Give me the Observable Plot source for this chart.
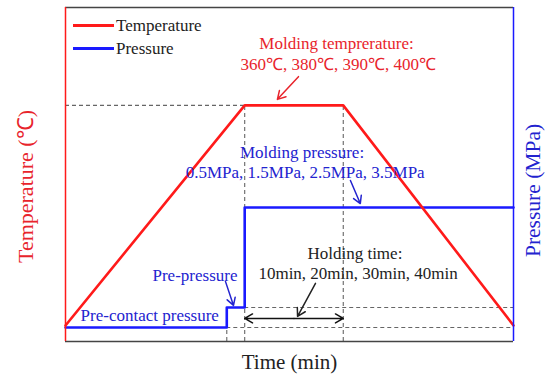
<!DOCTYPE html>
<html>
<head>
<meta charset="utf-8">
<script src="https://cdn.jsdelivr.net/npm/d3@7"></script>
<script src="https://cdn.jsdelivr.net/npm/@observablehq/plot@0.6"></script>
<style>
  body { margin: 0; background: #fff; }
  #wrap { position: relative; width: 545px; height: 376px; }
  #legend { position: absolute; left: 73px; top: 14px; font-family: "Liberation Serif", serif; font-size: 17px; color: #222; }
  #legend .item { display: flex; align-items: center; height: 23px; }
  #legend .sw { display: inline-block; width: 41px; height: 3px; margin-right: 2px; }
</style>
</head>
<body>
<div id="wrap"></div>
<script>
// ---- data (time and level in relative units, 0-100) ----
const tempTime  = [0, 40, 62, 100];
const tempLevel = [4.8, 70.7, 70.7, 4.8];
const pressTime  = [0, 36, 36, 40, 40, 100];
const pressLevel = [4.2, 4.2, 10.2, 10.2, 40.1, 40.1];
const preContactLevel = 4.2, prePressLevel = 10.2, moldPressLevel = 40.1, moldTempLevel = 70.7;
const prePressStart = 36, holdStart = 40, holdEnd = 62, timeEnd = 100;

const seriesNames  = ["Temperature", "Pressure"];
const seriesColors = ["#ff1a1a", "#1a1aff"];

const labelTexts = ["Molding temprerature:", "360℃, 380℃, 390℃, 400℃",
  "Molding pressure:", "0.5MPa, 1.5MPa, 2.5MPa, 3.5MPa",
  "Holding time:", "10min, 20min, 30min, 40min",
  "Pre-pressure", "Pre-contact pressure"];
const labelX = [60.5, 60.9, 52.8, 53.5, 64.6, 65.3, 28.9, 18.8];
const labelY = [89.2, 82.9, 56.6, 50.6, 26.3, 20.4, 19.8, 7.8];
const labelKind = ["t", "t", "p", "p", "h", "h", "p", "p"];

const arrowX1 = [52.0, 63.6, 55.8, 35.7];
const arrowY1 = [79.3, 48.2, 17.4, 18.0];
const arrowX2 = [47.3, 65.8, 51.8, 37.5];
const arrowY2 = [72.5, 41.3, 7.5, 10.8];
const arrowKind = ["t", "p", "h", "p"];
const holdArrowLevel = 6.9;

// ---- build tables ----
const temp = tempTime.map((t, i) => ({t, v: tempLevel[i]}));
const press = pressTime.map((t, i) => ({t, v: pressLevel[i]}));
const kindColor = {t: "#e8242c", p: "#2323cf", h: "#222"};
const labels = labelTexts.map((s, i) => ({s, x: labelX[i], y: labelY[i], k: labelKind[i]}));
const arrows = arrowX1.map((x1, i) => ({x1, y1: arrowY1[i], x2: arrowX2[i], y2: arrowY2[i], k: arrowKind[i]}));
const mid = (holdStart + holdEnd) / 2;
const holdArrows = [{x1: mid, x2: holdStart}, {x1: mid, x2: holdEnd}];

const hDash = [
  {x1: 0, x2: holdStart, y: moldTempLevel},
  {x1: holdStart, x2: timeEnd, y: prePressLevel},
  {x1: prePressStart, x2: timeEnd, y: preContactLevel}
];
const vDash = [
  {x: holdStart, y1: 0, y2: moldTempLevel},
  {x: holdEnd, y1: 0, y2: moldTempLevel},
  {x: prePressStart, y1: 0, y2: prePressLevel}
];

const dash = {stroke: "#666", strokeWidth: 1.1, strokeDasharray: "4,3"};
const center = {textAnchor: "middle", lineAnchor: "middle"};

const chart = Plot.plot({
  width: 545, height: 376,
  marginLeft: 65, marginRight: 32, marginTop: 7, marginBottom: 35,
  x: {domain: [0, 100], axis: null},
  y: {domain: [0, 100], axis: null},
  style: {fontFamily: "Liberation Serif, serif", background: "white", overflow: "visible"},
  marks: [
    Plot.ruleY(hDash, {x1: "x1", x2: "x2", y: "y", ...dash}),
    Plot.ruleX(vDash, {x: "x", y1: "y1", y2: "y2", ...dash}),
    Plot.line(press, {x: "t", y: "v", stroke: seriesColors[1], strokeWidth: 2.6}),
    Plot.line(temp, {x: "t", y: "v", stroke: seriesColors[0], strokeWidth: 2.6}),
    Plot.ruleY([0, 100], {stroke: "#444", strokeWidth: 1.5}),
    Plot.ruleX([0], {stroke: seriesColors[0], strokeWidth: 1.5}),
    Plot.ruleX([100], {stroke: seriesColors[1], strokeWidth: 1.5}),
    Plot.arrow(arrows, {x1: "x1", y1: "y1", x2: "x2", y2: "y2", stroke: d => kindColor[d.k], strokeWidth: 1.5, headLength: 9}),
    Plot.arrow(holdArrows, {x1: "x1", x2: "x2", y1: holdArrowLevel, y2: holdArrowLevel, stroke: "#111", strokeWidth: 1.5, headLength: 9}),
    Plot.text(labels, {x: "x", y: "y", text: "s", fill: d => kindColor[d.k], fontSize: 17}),
    Plot.text(["Temperature (℃)"], {frameAnchor: "left", dx: -40, dy: 12, rotate: -90, fill: "#e8242c", fontSize: 22, ...center}),
    Plot.text(["Pressure (MPa)"], {frameAnchor: "right", dx: 20, dy: 16, rotate: -90, fill: "#2323cf", fontSize: 21.5, ...center}),
    Plot.text(["Time (min)"], {frameAnchor: "bottom", dy: 21, fill: "#222", fontSize: 21, ...center})
  ]
});

const wrap = document.getElementById("wrap");
wrap.appendChild(chart);
const legend = document.createElement("div");
legend.id = "legend";
seriesNames.forEach((n, i) => {
  const it = document.createElement("div");
  it.className = "item";
  const sw = document.createElement("span");
  sw.className = "sw";
  sw.style.background = seriesColors[i];
  it.appendChild(sw);
  it.appendChild(document.createTextNode(n));
  legend.appendChild(it);
});
wrap.appendChild(legend);
</script>
</body>
</html>
